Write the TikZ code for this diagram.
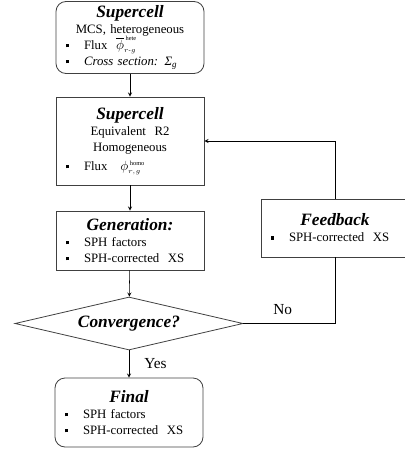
\documentclass[tikz,border=0pt]{standalone}
\usepackage{amsmath}
\usepackage{fontspec}
\setmainfont{Liberation Serif}
\usetikzlibrary{shapes.geometric}
\setlength{\parindent}{0pt}
\newcommand\boxtitle{\fontsize{13}{15}\selectfont\bfseries\itshape}
\newcommand\bul{\makebox[13.5pt][l]{\rule[1.6pt]{2.6pt}{2.6pt}}}

\begin{document}
\begin{tikzpicture}[x=0.75pt,y=-0.75pt,>=stealth,
    every node/.style={font=\fontsize{9.6}{12}\selectfont},
    flowbox/.style={draw=black!75,line width=0.6pt,rectangle,minimum width=111pt,text width=96pt,inner xsep=7.5pt,inner ysep=2pt},
    roundbox/.style={flowbox,rounded corners=7.5pt},
    decision/.style={draw=black!75,line width=0.6pt,diamond,aspect=4.3,minimum width=171pt,minimum height=39.75pt,inner sep=0pt}]
        \useasboundingbox (0,0) rectangle (404,450);
        \node[roundbox,minimum height=54pt] (cell) at (130,37.5) {{\centering{\boxtitle Supercell}\par MCS, heterogeneous\par}\bul Flux \ $\overline{\phi}^{\scriptscriptstyle\,\mathrm{hete}}_{\scriptscriptstyle r\text{-}g}$\par\bul\textit{Cross section: Σ\textsubscript{g}}\par};
        \node[flowbox,minimum height=66pt] (equiv) at (130,141) {{\centering{\boxtitle Supercell}\par Equivalent \ R2\par Homogeneous\par}\vspace{2.5pt}\bul Flux \ \ $\phi\vphantom{\overline{\phi}}^{\scriptscriptstyle\,\mathrm{homo}}_{\scriptscriptstyle r,g}$\par};
        \node[flowbox,minimum height=44.25pt] (gen) at (130,240.5) {{\centering{\boxtitle Generation:}\par}\bul SPH factors\par\bul SPH-corrected \ XS\par};
        \node[decision] (conv) at (129,323.5) {\boxtitle Convergence?};
        \node[roundbox,minimum height=51.75pt] (final) at (129,412.5) {{\centering{\boxtitle Final}\par}\bul SPH factors\par\bul SPH-corrected \ XS\par};
        \node[flowbox,minimum height=43.5pt] (fb) at (335,228) {{\centering{\boxtitle Feedback}\par}\bul SPH-corrected \ XS\par};
        \draw[->] (cell) to (equiv);
        \draw[->] (equiv) to (gen);
        \draw[->] (gen) to (conv);
        \draw[->] (conv) to node[right=8pt,font=\fontsize{11.5}{13}\selectfont] {Yes} (final);
        \draw (conv.east) to node[above=3pt,pos=0.43,font=\fontsize{11.5}{13}\selectfont] {No} (conv.east -| fb.south) to (fb.south);
        \draw[->] (fb.north) |- (equiv.east);
    \end{tikzpicture}
\end{document}
